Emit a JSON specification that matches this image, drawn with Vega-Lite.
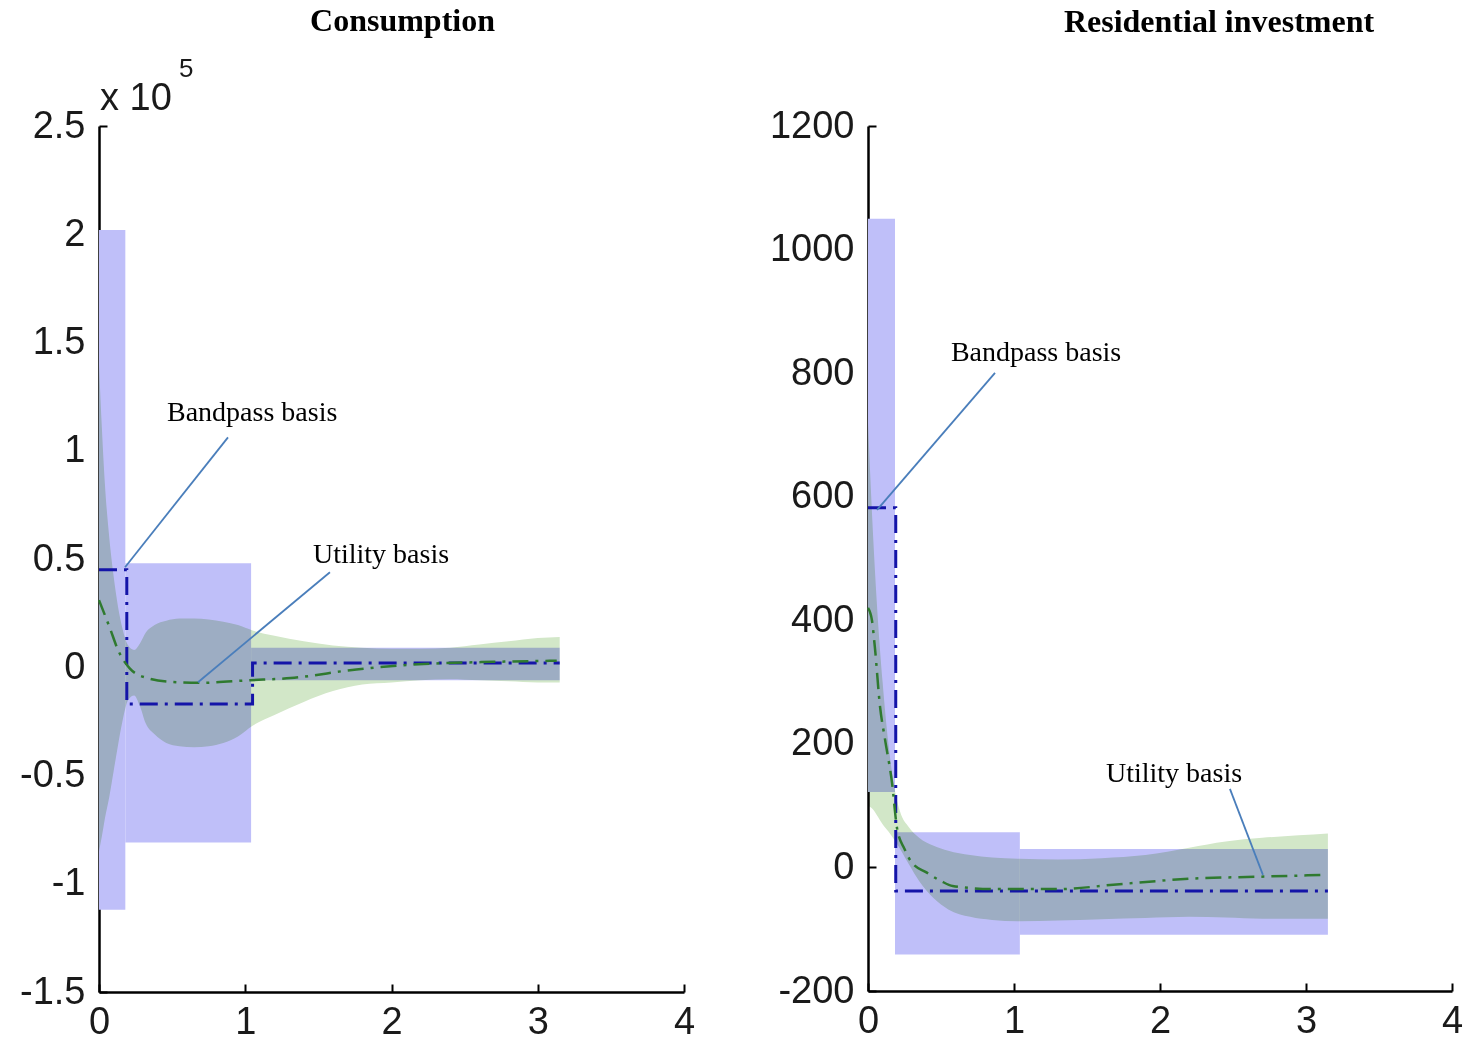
{
  "$schema": "https://vega.github.io/schema/vega-lite/v6.json",
  "background": "white",
  "padding": {"left": 19, "top": 5, "right": 5, "bottom": 0},
  "bounds": "flush",
  "spacing": 184,
  "config": {
    "view": {"stroke": null},
    "axis": {
      "grid": false,
      "domainColor": "#000000",
      "domainWidth": 2.5,
      "tickColor": "#000000",
      "tickWidth": 2,
      "tickSize": -8,
      "labelFont": "Liberation Sans",
      "labelFontSize": 38,
      "labelColor": "#1a1a1a",
      "labelPadding": 22,
      "labelFlush": false,
      "labelOverlap": false
    },
    "axisX": {"labelPadding": 19},
    "title": {"font": "Liberation Serif", "fontWeight": "bold", "fontSize": 32, "color": "#000000", "anchor": "middle"}
  },
  "datasets": {
    "bandsL": [
      {"x0": 0, "x1": 0.18, "lo": -1.12, "hi": 2.02},
      {"x0": 0.18, "x1": 1.04, "lo": -0.81, "hi": 0.48},
      {"x0": 1.04, "x1": 3.15, "lo": -0.06, "hi": 0.09}
    ],
    "stepL": [
      {"x": 0, "v": 0.45},
      {"x": 0.19, "v": -0.17},
      {"x": 1.05, "v": 0.02},
      {"x": 3.15, "v": 0.02}
    ],
    "greenBandL": [
      {"x": 0, "lo": -0.85, "hi": 1.4},
      {"x": 0.02, "lo": -0.78, "hi": 1.1},
      {"x": 0.04, "lo": -0.7, "hi": 0.85},
      {"x": 0.07, "lo": -0.6, "hi": 0.6},
      {"x": 0.1, "lo": -0.48, "hi": 0.42},
      {"x": 0.13, "lo": -0.36, "hi": 0.28},
      {"x": 0.16, "lo": -0.25, "hi": 0.18},
      {"x": 0.2, "lo": -0.15, "hi": 0.1},
      {"x": 0.24, "lo": -0.13, "hi": 0.08},
      {"x": 0.28, "lo": -0.18, "hi": 0.11},
      {"x": 0.32, "lo": -0.26, "hi": 0.16},
      {"x": 0.38, "lo": -0.31, "hi": 0.195},
      {"x": 0.46, "lo": -0.35, "hi": 0.215},
      {"x": 0.55, "lo": -0.365, "hi": 0.225},
      {"x": 0.65, "lo": -0.37, "hi": 0.225},
      {"x": 0.75, "lo": -0.365, "hi": 0.22},
      {"x": 0.85, "lo": -0.35, "hi": 0.21},
      {"x": 0.95, "lo": -0.32, "hi": 0.195},
      {"x": 1.05, "lo": -0.27, "hi": 0.17},
      {"x": 1.2, "lo": -0.22, "hi": 0.145},
      {"x": 1.4, "lo": -0.16, "hi": 0.12},
      {"x": 1.6, "lo": -0.11, "hi": 0.1},
      {"x": 1.8, "lo": -0.08, "hi": 0.09},
      {"x": 2.0, "lo": -0.07, "hi": 0.085},
      {"x": 2.2, "lo": -0.06, "hi": 0.085},
      {"x": 2.4, "lo": -0.055, "hi": 0.09},
      {"x": 2.6, "lo": -0.06, "hi": 0.105},
      {"x": 2.8, "lo": -0.065, "hi": 0.12},
      {"x": 3.0, "lo": -0.07, "hi": 0.135},
      {"x": 3.15, "lo": -0.07, "hi": 0.14}
    ],
    "greenLineL": [
      {"x": 0, "v": 0.31},
      {"x": 0.075, "v": 0.18},
      {"x": 0.13, "v": 0.08},
      {"x": 0.21, "v": -0.005},
      {"x": 0.33, "v": -0.05},
      {"x": 0.5, "v": -0.068},
      {"x": 0.69, "v": -0.072},
      {"x": 1.03, "v": -0.06},
      {"x": 1.31, "v": -0.05},
      {"x": 1.76, "v": -0.01},
      {"x": 2.22, "v": 0.015},
      {"x": 2.7, "v": 0.025},
      {"x": 3.13, "v": 0.03}
    ],
    "notesL": [
      {"tx": 0.465, "ty": 1.173, "label": "Bandpass basis", "ax": 0.882, "ay": 1.062, "bx": 0.178, "by": 0.462},
      {"tx": 1.463, "ty": 0.517, "label": "Utility basis", "ax": 1.579, "ay": 0.439, "bx": 0.677, "by": -0.069}
    ],
    "expL": [
      {"x": 0, "y": 2.5, "label": "x 10", "sup": "5"}
    ],
    "bandsR": [
      {"x0": 0, "x1": 0.185, "lo": 122, "hi": 1050},
      {"x0": 0.185, "x1": 1.04, "lo": -141, "hi": 57},
      {"x0": 1.04, "x1": 3.15, "lo": -109, "hi": 30}
    ],
    "stepR": [
      {"x": 0, "v": 582},
      {"x": 0.19, "v": -38},
      {"x": 3.15, "v": -38}
    ],
    "greenBandR": [
      {"x": 0, "lo": 100, "hi": 720},
      {"x": 0.03, "lo": 95, "hi": 560},
      {"x": 0.06, "lo": 85, "hi": 430},
      {"x": 0.1, "lo": 70, "hi": 300},
      {"x": 0.14, "lo": 58, "hi": 200},
      {"x": 0.18, "lo": 45, "hi": 130},
      {"x": 0.22, "lo": 30, "hi": 90},
      {"x": 0.28, "lo": 5, "hi": 65},
      {"x": 0.35, "lo": -22, "hi": 48},
      {"x": 0.45, "lo": -50, "hi": 35},
      {"x": 0.55, "lo": -68, "hi": 27},
      {"x": 0.7, "lo": -80, "hi": 20},
      {"x": 0.85, "lo": -85, "hi": 16},
      {"x": 1.04, "lo": -87, "hi": 14},
      {"x": 1.3, "lo": -86, "hi": 13},
      {"x": 1.6, "lo": -84, "hi": 15},
      {"x": 1.9, "lo": -82, "hi": 20},
      {"x": 2.2, "lo": -80, "hi": 32},
      {"x": 2.45, "lo": -81, "hi": 42},
      {"x": 2.7, "lo": -83, "hi": 48},
      {"x": 2.95, "lo": -83, "hi": 52},
      {"x": 3.15, "lo": -83, "hi": 55}
    ],
    "greenLineR": [
      {"x": 0, "v": 420},
      {"x": 0.027, "v": 400},
      {"x": 0.048, "v": 354},
      {"x": 0.082, "v": 261},
      {"x": 0.116, "v": 208},
      {"x": 0.164, "v": 138},
      {"x": 0.2, "v": 62},
      {"x": 0.25, "v": 30},
      {"x": 0.3, "v": 8},
      {"x": 0.4, "v": -8},
      {"x": 0.5, "v": -22},
      {"x": 0.58, "v": -30},
      {"x": 0.86, "v": -35},
      {"x": 1.32, "v": -35},
      {"x": 1.68, "v": -28},
      {"x": 2.23, "v": -18},
      {"x": 2.68, "v": -15},
      {"x": 3.14, "v": -12}
    ],
    "notesR": [
      {"tx": 0.568, "ty": 832.7, "label": "Bandpass basis", "ax": 0.87, "ay": 800.3, "bx": 0.062, "by": 578.6},
      {"tx": 1.63, "ty": 151.5, "label": "Utility basis", "ax": 2.479, "ay": 127.2, "bx": 2.705, "by": -12.0}
    ]
  },
  "hconcat": [
    {
      "width": 585,
      "height": 866,
      "title": {"text": "Consumption", "dx": 11, "offset": 18},
      "layer": [
        {
          "data": {"name": "bandsL"},
          "mark": {"type": "rect", "color": "#bfbff9"},
          "encoding": {
            "x": {"field": "x0", "type": "quantitative", "title": null, "scale": {"domain": [0, 4], "nice": false}, "axis": {"values": [0, 1, 2, 3, 4], "labelExpr": "datum.value + ''"}},
            "x2": {"field": "x1"},
            "y": {"field": "lo", "type": "quantitative", "title": null, "scale": {"domain": [-1.5, 2.5], "nice": false}, "axis": {"values": [-1.5, -1, -0.5, 0, 0.5, 1, 1.5, 2, 2.5], "labelExpr": "datum.value + ''"}},
            "y2": {"field": "hi"}
          }
        },
        {
          "data": {"name": "greenBandL"},
          "mark": {"type": "area", "color": "#d2e7c8", "blend": "multiply", "interpolate": "monotone"},
          "encoding": {
            "x": {"field": "x", "type": "quantitative", "title": null},
            "y": {"field": "lo", "type": "quantitative", "title": null},
            "y2": {"field": "hi"}
          }
        },
        {
          "data": {"name": "stepL"},
          "mark": {"type": "line", "interpolate": "step-after", "color": "#1414a8", "strokeWidth": 3, "strokeDash": [18, 7, 3, 7]},
          "encoding": {
            "x": {"field": "x", "type": "quantitative", "title": null},
            "y": {"field": "v", "type": "quantitative", "title": null}
          }
        },
        {
          "data": {"name": "greenLineL"},
          "mark": {"type": "line", "interpolate": "monotone", "color": "#2f7a2f", "strokeWidth": 2.5, "strokeDash": [16, 7, 3, 7]},
          "encoding": {
            "x": {"field": "x", "type": "quantitative", "title": null},
            "y": {"field": "v", "type": "quantitative", "title": null}
          }
        },
        {
          "data": {"name": "notesL"},
          "mark": {"type": "rule", "color": "#4a7ebb", "strokeWidth": 1.8},
          "encoding": {
            "x": {"field": "ax", "type": "quantitative", "title": null},
            "y": {"field": "ay", "type": "quantitative", "title": null},
            "x2": {"field": "bx"},
            "y2": {"field": "by"}
          }
        },
        {
          "data": {"name": "notesL"},
          "mark": {"type": "text", "align": "left", "baseline": "middle", "font": "Liberation Serif", "fontSize": 28, "color": "#000000"},
          "encoding": {
            "x": {"field": "tx", "type": "quantitative", "title": null},
            "y": {"field": "ty", "type": "quantitative", "title": null},
            "text": {"field": "label"}
          }
        },
        {
          "data": {"name": "expL"},
          "mark": {"type": "text", "align": "left", "baseline": "middle", "font": "Liberation Sans", "fontSize": 38, "color": "#1a1a1a", "dx": 1, "dy": -27},
          "encoding": {
            "x": {"field": "x", "type": "quantitative", "title": null},
            "y": {"field": "y", "type": "quantitative", "title": null},
            "text": {"field": "label"}
          }
        },
        {
          "data": {"name": "expL"},
          "mark": {"type": "text", "align": "left", "baseline": "middle", "font": "Liberation Sans", "fontSize": 26, "color": "#1a1a1a", "dx": 80, "dy": -57},
          "encoding": {
            "x": {"field": "x", "type": "quantitative", "title": null},
            "y": {"field": "y", "type": "quantitative", "title": null},
            "text": {"field": "sup"}
          }
        }
      ]
    },
    {
      "width": 584,
      "height": 865,
      "title": {"text": "Residential investment", "dx": 59, "offset": 68},
      "layer": [
        {
          "data": {"name": "bandsR"},
          "mark": {"type": "rect", "color": "#bfbff9"},
          "encoding": {
            "x": {"field": "x0", "type": "quantitative", "title": null, "scale": {"domain": [0, 4], "nice": false}, "axis": {"values": [0, 1, 2, 3, 4], "labelExpr": "datum.value + ''"}},
            "x2": {"field": "x1"},
            "y": {"field": "lo", "type": "quantitative", "title": null, "scale": {"domain": [-200, 1200], "nice": false}, "axis": {"values": [-200, 0, 200, 400, 600, 800, 1000, 1200], "labelExpr": "datum.value + ''"}},
            "y2": {"field": "hi"}
          }
        },
        {
          "data": {"name": "greenBandR"},
          "mark": {"type": "area", "color": "#d2e7c8", "blend": "multiply", "interpolate": "monotone"},
          "encoding": {
            "x": {"field": "x", "type": "quantitative", "title": null},
            "y": {"field": "lo", "type": "quantitative", "title": null},
            "y2": {"field": "hi"}
          }
        },
        {
          "data": {"name": "stepR"},
          "mark": {"type": "line", "interpolate": "step-after", "color": "#1414a8", "strokeWidth": 3, "strokeDash": [18, 7, 3, 7]},
          "encoding": {
            "x": {"field": "x", "type": "quantitative", "title": null},
            "y": {"field": "v", "type": "quantitative", "title": null}
          }
        },
        {
          "data": {"name": "greenLineR"},
          "mark": {"type": "line", "interpolate": "monotone", "color": "#2f7a2f", "strokeWidth": 2.5, "strokeDash": [16, 7, 3, 7]},
          "encoding": {
            "x": {"field": "x", "type": "quantitative", "title": null},
            "y": {"field": "v", "type": "quantitative", "title": null}
          }
        },
        {
          "data": {"name": "notesR"},
          "mark": {"type": "rule", "color": "#4a7ebb", "strokeWidth": 1.8},
          "encoding": {
            "x": {"field": "ax", "type": "quantitative", "title": null},
            "y": {"field": "ay", "type": "quantitative", "title": null},
            "x2": {"field": "bx"},
            "y2": {"field": "by"}
          }
        },
        {
          "data": {"name": "notesR"},
          "mark": {"type": "text", "align": "left", "baseline": "middle", "font": "Liberation Serif", "fontSize": 28, "color": "#000000"},
          "encoding": {
            "x": {"field": "tx", "type": "quantitative", "title": null},
            "y": {"field": "ty", "type": "quantitative", "title": null},
            "text": {"field": "label"}
          }
        }
      ]
    }
  ]
}
